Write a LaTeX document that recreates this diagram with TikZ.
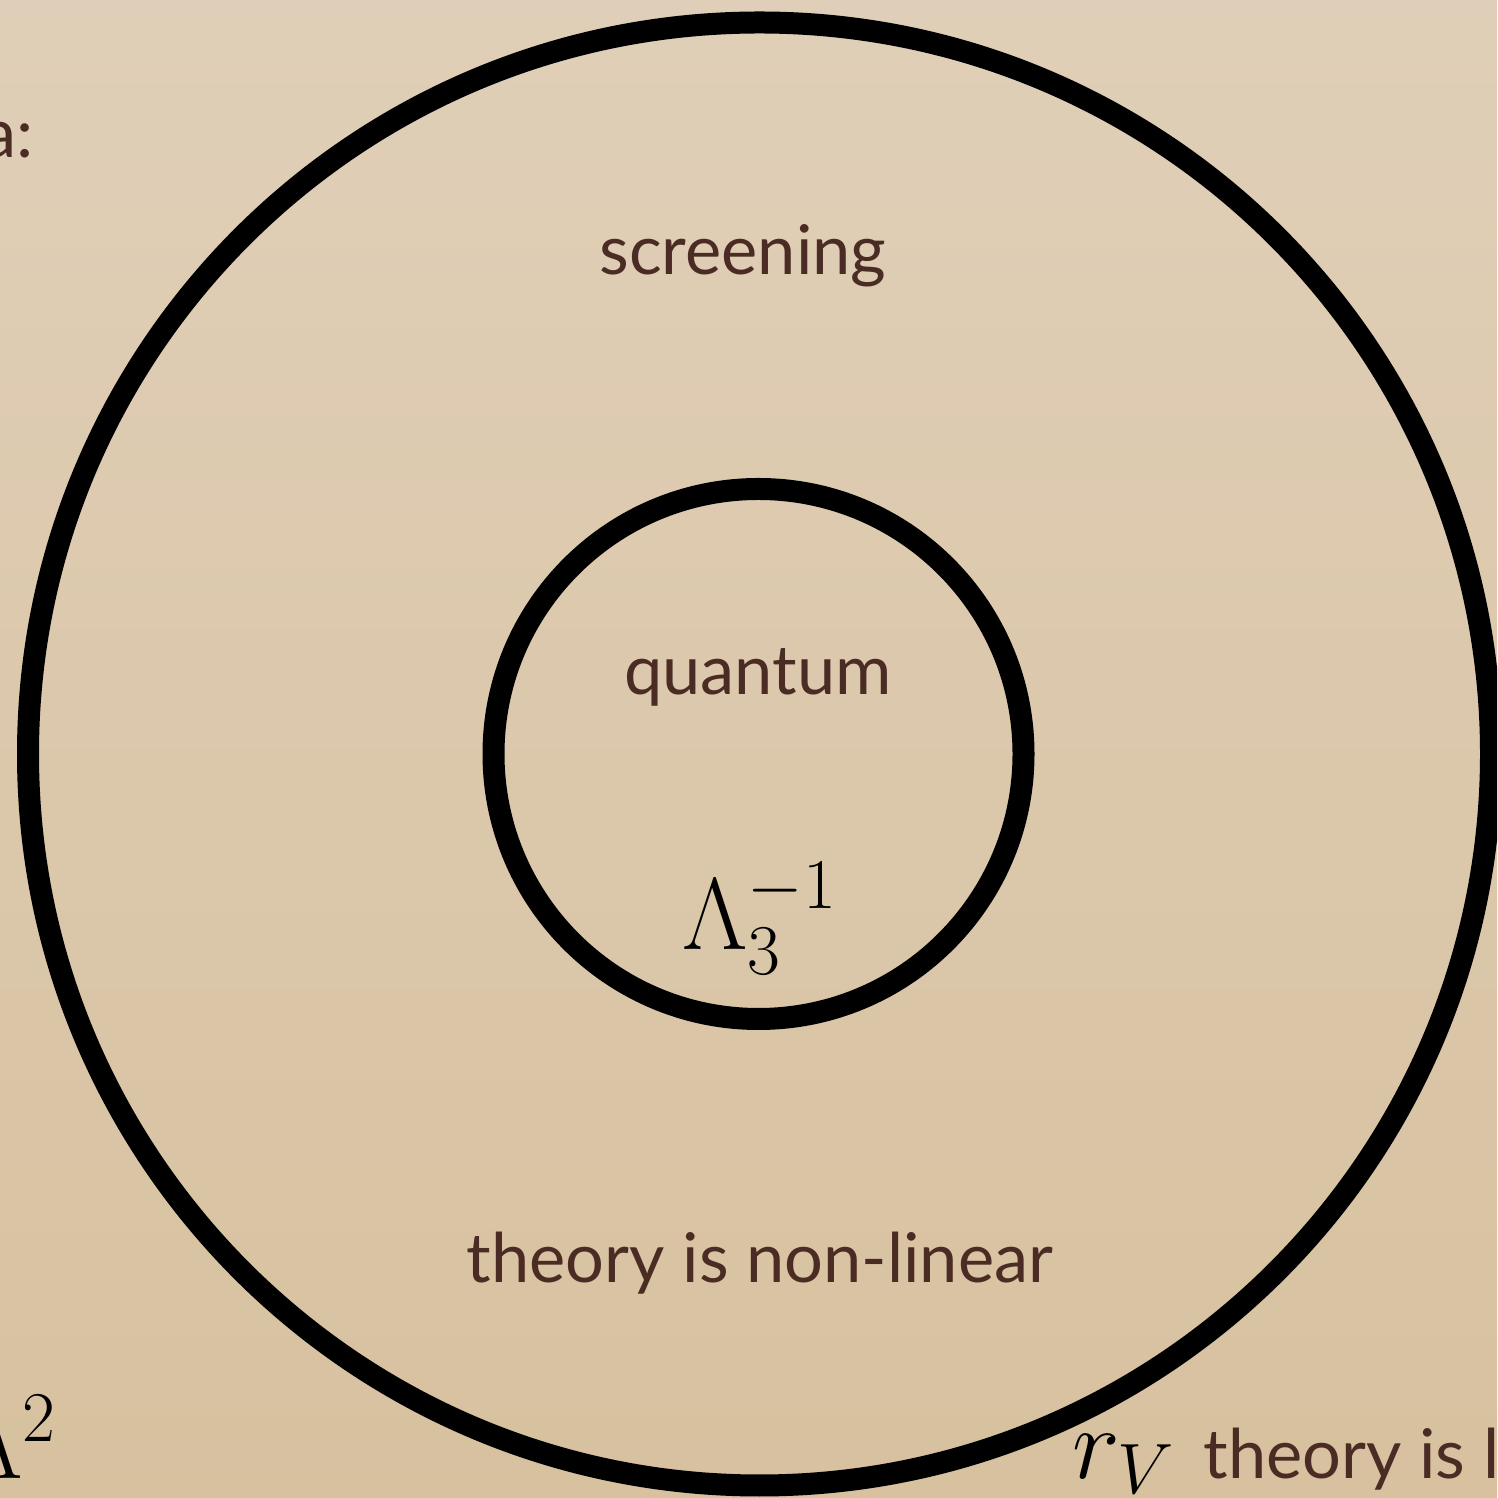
\RequirePackage{fix-cm}
\documentclass[tikz,border=0pt]{standalone}
\usepackage{fontspec}
\setmainfont{Lato}
\usepackage{amsmath}
\usepackage{tikz}
\usetikzlibrary{positioning, calc}
\definecolor{parchtop}{HTML}{E0CFB8}
\definecolor{parchbot}{HTML}{D7C19F}
\definecolor{inkbrown}{HTML}{4A2C24}
\begin{document}
\begin{tikzpicture}[
    ring/.style={circle, draw=black, line width=0.22cm, inner sep=0pt, outer sep=0pt},
    word/.style={text=inkbrown, inner sep=0pt, anchor=base, font=\fontsize{19.5}{23}\selectfont},
    sym/.style={text=black, inner sep=0pt, anchor=base, font=\fontsize{29}{35}\selectfont}
  ]
  % Page
  \useasboundingbox (0,0) rectangle (14.97,14.98);
  \clip (0,0) rectangle (14.97,14.98);
  \shade[top color=parchtop, bottom color=parchbot] (0,0) rectangle (14.97,14.98);

  % Circles
  \node[ring, minimum size=14.63cm] (outer) at (7.595,7.44) {};
  \node[ring, minimum size=5.30cm] (inner) at (7.585,7.44) {};

  % Labels
  \node[word] (scr) at (7.43,12.23) {screening};
  \node[word] (qua) at (7.58,8.03) {quantum};
  \node[sym] (lam) at (7.60,5.48) {$\Lambda_3^{-1}$};
  \node[word] (nonlin) at (7.60,2.15) {theory is non-linear};
  \node[sym, anchor=base west] (rv) at (10.72,0.20) {$r_V$};
  \node[word, anchor=base west] (lin) at (12.03,0.20) {theory is linear};

  % Cut-off text at the left edge
  \node[word, anchor=base east] (colon) at (0.34,13.40) {a:};
  \node[sym, anchor=base east] (lamsq) at (0.58,0.20) {$\Lambda^2$};
\end{tikzpicture}
\end{document}
